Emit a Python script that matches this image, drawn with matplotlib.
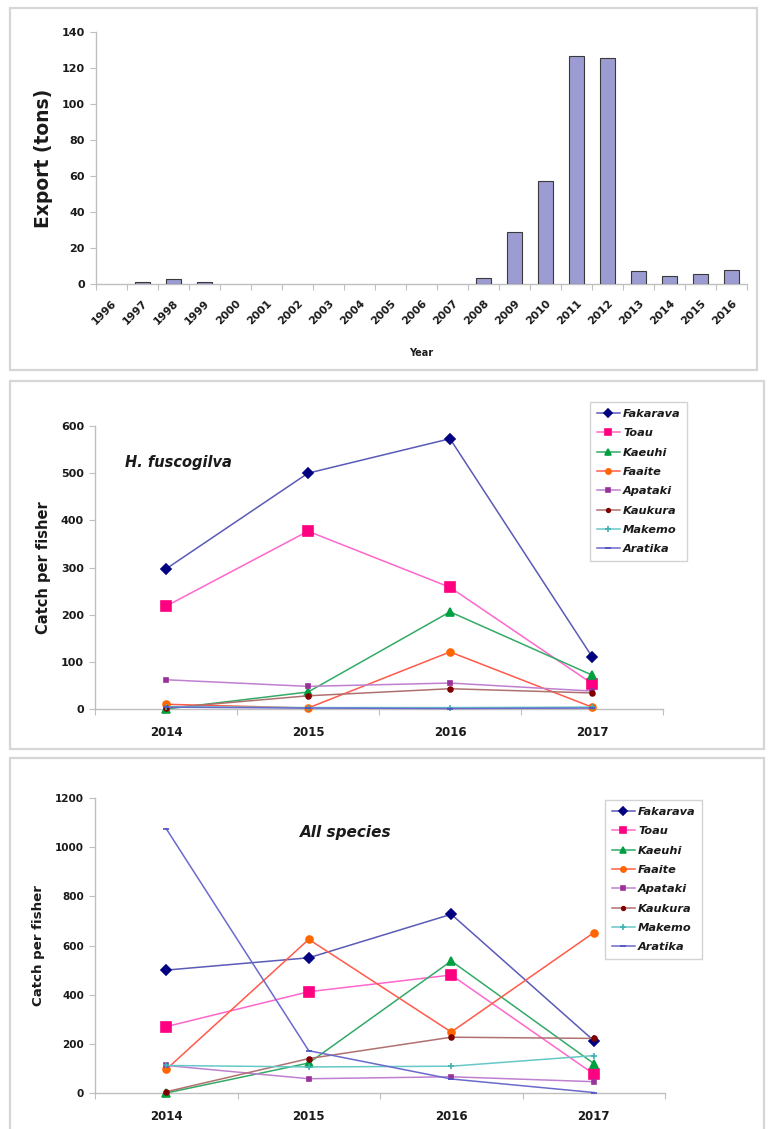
import matplotlib.pyplot as plt
from matplotlib.patches import Rectangle

# annual export, 1996-2016
export_years = ['1996', '1997', '1998', '1999', '2000', '2001', '2002', '2003',
                '2004', '2005', '2006', '2007', '2008', '2009', '2010', '2011',
                '2012', '2013', '2014', '2015', '2016']
export_tons = [0, 1, 2.8, 1.2, 0, 0, 0, 0, 0, 0, 0, 0,
               3.3, 29, 57, 126.8, 125.8, 7, 4.2, 5.5, 8]

survey_years = ['2014', '2015', '2016', '2017']
atolls = ['Fakarava', 'Toau', 'Kaeuhi', 'Faaite',
          'Apataki', 'Kaukura', 'Makemo', 'Aratika']

# catch per fisher, H. fuscogilva
fusco_fakarava = [297, 500, 573, 111]
fusco_toau = [218, 377, 258, 54]
fusco_kaeuhi = [0, 36, 206, 72]
fusco_faaite = [10, 2, 121, 4]
fusco_apataki = [62, 48, 55, 38]
fusco_kaukura = [2, 28, 43, 34]
fusco_makemo = [5, 3, 3, 4]
fusco_aratika = [4, 2, 1, 2]

# catch per fisher, all species
all_fakarava = [500, 550, 727, 213]
all_toau = [270, 412, 480, 77]
all_kaeuhi = [0, 122, 537, 120]
all_faaite = [96, 625, 248, 652]
all_apataki = [112, 58, 66, 46]
all_kaukura = [5, 140, 227, 222]
all_makemo = [112, 106, 109, 152]
all_aratika = [1075, 172, 57, 2]

fusco = [fusco_fakarava, fusco_toau, fusco_kaeuhi, fusco_faaite,
         fusco_apataki, fusco_kaukura, fusco_makemo, fusco_aratika]
all_sp = [all_fakarava, all_toau, all_kaeuhi, all_faaite,
          all_apataki, all_kaukura, all_makemo, all_aratika]

# line colour, marker, marker colour, marker size
styles = [
    ('#5a5ab8', 'D', '#000080', 5),
    ('#ff66cc', 's', '#ff0080', 6.5),
    ('#33aa66', '^', '#00a040', 5.5),
    ('#ff5a4a', 'o', '#ff6600', 5),
    ('#c080d0', 's', '#993399', 3.5),
    ('#b07070', 'o', '#800000', 3.5),
    ('#66c8c8', '+', '#40b0b0', 5),
    ('#6a6acc', '_', '#5050c0', 5),
]

W, H = 768, 1129
fig = plt.figure(figsize=(W / 100, H / 100), dpi=100)
plt.rcParams['font.family'] = 'DejaVu Sans'

GRID = '#bfbfbf'
TXT = '#1a1a1a'


def panel_box(x0, y0, x1, y1):
    fig.patches.append(Rectangle((x0 / W, 1 - y1 / H), (x1 - x0) / W, (y1 - y0) / H,
                                 transform=fig.transFigure, fill=False,
                                 ec='#d6d6d6', lw=1.6))


def axes_px(l, t, r, b):
    return fig.add_axes([l / W, 1 - b / H, (r - l) / W, (b - t) / H])


def style_axes(ax, n, ysize, xsize, xpad):
    for s in ['top', 'right']:
        ax.spines[s].set_visible(False)
    for s in ['left', 'bottom']:
        ax.spines[s].set_color(GRID)
        ax.spines[s].set_linewidth(1.0)
    ax.set_xlim(-0.5, n - 0.5)
    ax.set_xticks([i - 0.5 for i in range(n + 1)])
    ax.set_xticklabels([])
    ax.tick_params(axis='x', which='major', length=4, color=GRID, direction='out')
    ax.tick_params(axis='x', which='minor', length=0, pad=xpad,
                   labelsize=xsize, labelcolor=TXT)
    ax.tick_params(axis='y', length=4, color=GRID, direction='out', pad=4,
                   labelsize=ysize, labelcolor=TXT)
    for lab in ax.get_yticklabels():
        lab.set_fontweight('bold')


# ---- export bar chart ----
panel_box(10, 8, 757, 370)
ax1 = axes_px(96, 32, 747, 284)
xb = range(len(export_years))
ax1.bar(xb, export_tons, width=0.46, color='#9c9cd2', edgecolor='#3a3a3a',
        linewidth=[0.8 if v > 0 else 0 for v in export_tons], zorder=3)
ax1.set_ylim(0, 140)
ax1.set_yticks(range(0, 141, 20))
style_axes(ax1, len(export_years), 8, 7.5, 10)
ax1.set_xticks(list(xb), minor=True)
ax1.set_xticklabels(export_years, minor=True, rotation=45, ha='right',
                    rotation_mode='anchor', fontweight='bold', fontsize=7.8,
                    color=TXT)
ax1.set_ylabel('Export (tons)', fontsize=13.5, fontweight='bold', color=TXT)
ax1.yaxis.set_label_coords(-0.066, 0.5)
ax1.set_xlabel('Year', fontsize=7, fontweight='bold', color=TXT)
ax1.xaxis.set_label_coords(0.5, -0.255)


def line_panel(ax, series, ymax, ystep, ysize, ylab_x, ylab_size, title, tx, ty,
               title_size, leg_x, leg_y):
    xs = range(len(survey_years))
    for name, vals, (lc, m, mc, ms) in zip(atolls, series, styles):
        ax.plot(xs, vals, color=lc, lw=1.1, marker=m, ms=ms, mfc=mc, mec=mc,
                mew=1.2, label=name, clip_on=False, zorder=3)
    ax.set_ylim(0, ymax)
    ax.set_yticks(range(0, ymax + 1, ystep))
    style_axes(ax, len(survey_years), ysize, 8.5, 12)
    ax.set_xticks(list(xs), minor=True)
    ax.set_xticklabels(survey_years, minor=True, fontweight='bold', fontsize=8.5,
                       color=TXT)
    ax.set_ylabel('Catch per fisher', fontsize=ylab_size, fontweight='bold', color=TXT)
    ax.yaxis.set_label_coords(ylab_x, 0.5)
    ax.text(tx, ty, title, transform=ax.transAxes, fontsize=title_size,
            fontweight='bold', fontstyle='italic', color=TXT, va='center')
    leg = ax.legend(loc='upper left', bbox_to_anchor=(leg_x / W, 1 - leg_y / H),
                    bbox_transform=fig.transFigure, borderaxespad=0,
                    frameon=True, fancybox=False, edgecolor='#c8c8c8',
                    prop={'size': 8.2, 'weight': 'bold', 'style': 'italic'},
                    handlelength=2.0, handletextpad=0.3, labelspacing=0.82,
                    borderpad=0.6, markerscale=0.75)
    leg.get_frame().set_linewidth(1.0)
    for t in leg.get_texts():
        t.set_color(TXT)


# ---- H. fuscogilva ----
panel_box(10, 381, 764, 749)
ax2 = axes_px(95, 426, 663, 709)
line_panel(ax2, fusco, 600, 100, 8, -0.0775, 10.5, 'H. fuscogilva', 0.053, 0.872,
           10.5, 590, 402)

# ---- all species ----
panel_box(10, 758, 764, 1140)
ax3 = axes_px(95, 798, 665, 1093)
line_panel(ax3, all_sp, 1200, 200, 7.5, -0.088, 9.6, 'All species', 0.36, 0.884,
           11, 605, 800)

fig.savefig('out.png', dpi=100)
